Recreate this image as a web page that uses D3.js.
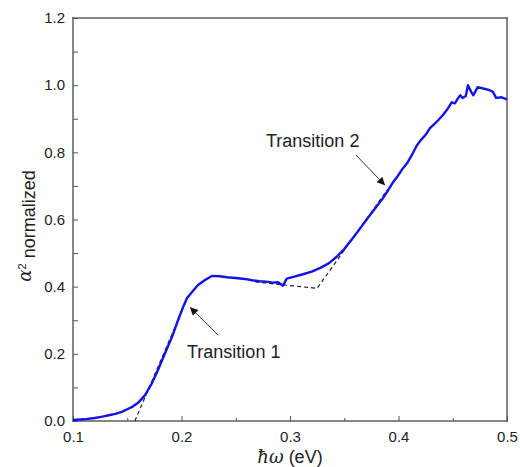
<!DOCTYPE html>
<html>
<head>
<meta charset="utf-8">
<script src="https://cdn.jsdelivr.net/npm/d3@7"></script>
<style>
  body { margin: 0; background: #fff; }
  svg text { font-family: "Liberation Sans", Arial, sans-serif; fill: #222; }
  .tick line { stroke: #555; }
</style>
</head>
<body>
<svg id="chart" width="520" height="467"></svg>
<script>
// photon energy (eV) and normalized alpha^2
const energy = [
  0.100, 0.110, 0.120, 0.127, 0.133, 0.139, 0.145, 0.150, 0.155, 0.160,
  0.1664, 0.1728, 0.1783, 0.1848, 0.1912, 0.1968, 0.2014, 0.2051, 0.2097, 0.2152,
  0.2217, 0.228, 0.235, 0.242, 0.250, 0.258, 0.265, 0.272, 0.278, 0.284,
  0.289, 0.2935, 0.297, 0.304, 0.312, 0.320, 0.328, 0.336, 0.343, 0.350,
  0.356, 0.362, 0.367, 0.372, 0.377, 0.382, 0.386, 0.391, 0.395, 0.399,
  0.404, 0.408, 0.412, 0.417, 0.421, 0.425, 0.429, 0.433, 0.437, 0.441,
  0.445, 0.449, 0.452, 0.455, 0.457, 0.459, 0.462, 0.464, 0.467, 0.469,
  0.473, 0.478, 0.484, 0.487, 0.490, 0.495, 0.500
];
const alphaSq = [
  0.003, 0.005, 0.009, 0.013, 0.017, 0.021, 0.027, 0.035, 0.043, 0.054,
  0.077, 0.113, 0.152, 0.202, 0.250, 0.300, 0.339, 0.366, 0.384, 0.405,
  0.420, 0.432, 0.431, 0.428, 0.426, 0.423, 0.419, 0.416, 0.415, 0.412,
  0.413, 0.403, 0.424, 0.430, 0.437, 0.445, 0.456, 0.470, 0.489, 0.512,
  0.537, 0.562, 0.584, 0.606, 0.627, 0.648, 0.665, 0.690, 0.711, 0.728,
  0.752, 0.768, 0.790, 0.821, 0.838, 0.852, 0.872, 0.884, 0.897, 0.911,
  0.928, 0.949, 0.946, 0.962, 0.970, 0.962, 0.968, 1.000, 0.980, 0.970,
  0.994, 0.990, 0.985, 0.980, 0.962, 0.964, 0.958
];

// dashed tangent (extrapolation) lines
const tangent1 = [[0.157, 0.0], [0.206, 0.37]];
const tangent2 = [[0.268, 0.414], [0.325, 0.395], [0.39, 0.69]];

// annotations: label anchor, arrow tail, arrow tip (data coords)
const labels = ['Transition 1', 'Transition 2'];
const labelPos = [[0.2051, 0.1875], [0.2779, 0.815]];
const arrowTail = [[0.2336, 0.256], [0.3608, 0.792]];
const arrowTip = [[0.2078, 0.339], [0.3876, 0.702]];

const xTicks = [0.1, 0.2, 0.3, 0.4, 0.5];
const yTicks = [0.0, 0.2, 0.4, 0.6, 0.8, 1.0, 1.2];
const xMinor = [0.15, 0.25, 0.35, 0.45];
const yMinor = [0.1, 0.3, 0.5, 0.7, 0.9, 1.1];

const margin = { top: 18, right: 13, bottom: 46, left: 73 };
const W = 520, H = 467;
const width = W - margin.left - margin.right,
  height = H - margin.top - margin.bottom;

const svg = d3.select('#chart');
const g = svg.append('g').attr('transform', `translate(${ margin.left }, ${ margin.top })`);

const x = d3.scaleLinear().domain([0.1, 0.5]).range([0, width]);
const y = d3.scaleLinear().domain([0, 1.2]).range([height, 0]);

// frame as thin filled bars (edges of the plot box)
const bw = 1.4;
const bars = [
  { x: -bw / 2, y: -bw / 2, w: width + bw, h: bw },
  { x: -bw / 2, y: height - bw / 2, w: width + bw, h: bw },
  { x: -bw / 2, y: -bw / 2, w: bw, h: height + bw },
  { x: width - bw / 2, y: -bw / 2, w: bw, h: height + bw }
];
g.append('g').selectAll('rect').data(bars).join('rect')
  .attr('x', d => d.x).attr('y', d => d.y)
  .attr('width', d => d.w).attr('height', d => d.h)
  .attr('fill', '#555');

// ticks point inward
const xAxis = d3.axisBottom(x).tickValues(xTicks).tickSizeInner(-5).tickSizeOuter(0).tickPadding(8).tickFormat(d3.format('.1f'));
const yAxis = d3.axisLeft(y).tickValues(yTicks).tickSizeInner(-5).tickSizeOuter(0).tickPadding(8).tickFormat(d3.format('.1f'));

const gx = g.append('g').attr('transform', `translate(0, ${ height })`).call(xAxis);
const gy = g.append('g').call(yAxis);
g.append('g').attr('transform', `translate(0, ${ height })`)
  .call(d3.axisBottom(x).tickValues(xMinor).tickSizeInner(-3).tickSizeOuter(0).tickFormat(''));
g.append('g')
  .call(d3.axisLeft(y).tickValues(yMinor).tickSizeInner(-5).tickSizeOuter(0).tickFormat(''));

g.selectAll('.domain').remove();
gx.selectAll('text').style('font-size', '15px').attr('dy', '0.85em');
gy.selectAll('text').style('font-size', '15px');

// dashed lines
const line = d3.line().x(d => x(d[0])).y(d => y(d[1]));
[tangent1, tangent2].forEach(t => {
  g.append('path').attr('d', line(t))
    .attr('fill', 'none').attr('stroke', '#222').attr('stroke-width', 1.2)
    .attr('stroke-dasharray', '4,3');
});

// main curve
const curve = energy.map((e, i) => [e, alphaSq[i]]);
g.append('path').attr('d', line(curve))
  .attr('fill', 'none').attr('stroke', '#1414e6').attr('stroke-width', 2.4)
  .attr('stroke-linejoin', 'round');

// arrows
svg.append('defs').append('marker')
  .attr('id', 'head').attr('viewBox', '0 0 10 10').attr('refX', 10).attr('refY', 5)
  .attr('markerWidth', 11).attr('markerHeight', 8).attr('markerUnits', 'userSpaceOnUse')
  .attr('orient', 'auto')
  .append('path').attr('d', 'M0,0L10,5L0,10Z').attr('fill', '#111');

labels.forEach((txt, i) => {
  g.append('line')
    .attr('x1', x(arrowTail[i][0])).attr('y1', y(arrowTail[i][1]))
    .attr('x2', x(arrowTip[i][0])).attr('y2', y(arrowTip[i][1]))
    .attr('stroke', '#333').attr('stroke-width', 1)
    .attr('marker-end', 'url(#head)');
  g.append('text')
    .attr('x', x(labelPos[i][0])).attr('y', y(labelPos[i][1]))
    .style('font-size', '18px')
    .text(txt);
});

// axis titles
const xt = svg.append('text')
  .attr('x', margin.left + x(0.3)).attr('y', 463)
  .attr('text-anchor', 'middle').style('font-size', '18px');
xt.append('tspan').style('font-family', '"DejaVu Serif", serif').style('font-style', 'italic').text('ħω');
xt.append('tspan').text(' (eV)');

const yt = svg.append('text')
  .attr('transform', 'translate(31, 226) rotate(-90)')
  .attr('text-anchor', 'middle').style('font-size', '18px');
yt.append('tspan').style('font-family', '"DejaVu Serif", serif').style('font-style', 'italic').text('α');
yt.append('tspan').attr('dy', '-0.5em').style('font-size', '11px').text('2');
yt.append('tspan').attr('dy', '0.5em').text(' normalized');
</script>
</body>
</html>
